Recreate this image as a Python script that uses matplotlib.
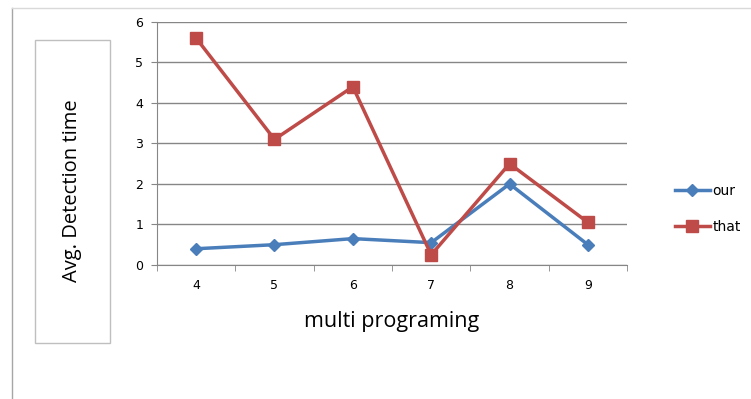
import matplotlib.pyplot as plt
from matplotlib.patches import Rectangle
from matplotlib.lines import Line2D

categories = ['4', '5', '6', '7', '8', '9']
our = [0.4, 0.5, 0.65, 0.55, 2.0, 0.5]
that = [5.6, 3.1, 4.4, 0.25, 2.5, 1.05]

blue = '#4a7ebb'
red = '#be4b48'

fig = plt.figure(figsize=(7.51, 3.99), dpi=100)
ax = fig.add_axes([0.209, 0.336, 0.626, 0.609])

x = range(len(categories))
ax.plot(x, our, color=blue, lw=2.5, marker='D', ms=6, label='our')
ax.plot(x, that, color=red, lw=2.5, marker='s', ms=8, label='that')

ax.set_xlim(-0.5, len(categories) - 0.5)
ax.set_ylim(0, 6)
ax.set_yticks(range(7))
ax.set_xticks(list(x))
ax.set_xticklabels(categories)
ax.set_xticks([i + 0.5 for i in range(-1, len(categories))], minor=True)
ax.tick_params(axis='x', which='major', length=0, pad=10, labelsize=9)
ax.tick_params(axis='x', which='minor', length=4, color='#868686', direction='out')
ax.tick_params(axis='y', length=4, color='#868686', labelsize=9, pad=6)
ax.grid(axis='y', color='#868686', lw=1)
ax.set_axisbelow(True)
for s in ['top', 'right']:
    ax.spines[s].set_visible(False)
for s in ['left', 'bottom']:
    ax.spines[s].set_color('#868686')

ax.set_xlabel('multi programing', fontsize=15.5, family='Open Sans', labelpad=14)

# boxed y label
fig.patches.append(Rectangle((0.0466, 0.1404), 0.0999, 0.759, transform=fig.transFigure,
                             fill=False, edgecolor='#bfbfbf', lw=1))
fig.text(0.0959, 0.521, 'Avg. Detection time', rotation=90, ha='center', va='center',
         fontsize=14.5, family='Open Sans')

# outer frame
fig.lines.append(Line2D([0.016, 0.016], [0, 0.98], transform=fig.transFigure, color='#a6a6a6', lw=1))
fig.lines.append(Line2D([0.016, 1], [0.98, 0.98], transform=fig.transFigure, color='#d9d9d9', lw=1))

ax.legend(loc='upper left', bbox_to_anchor=(675 / 751, 0.539), bbox_transform=fig.transFigure,
          frameon=False, fontsize=10, handlelength=2.5, handletextpad=0.2,
          labelspacing=1.6, borderpad=0, borderaxespad=0)

fig.savefig('out.png', dpi=100)
